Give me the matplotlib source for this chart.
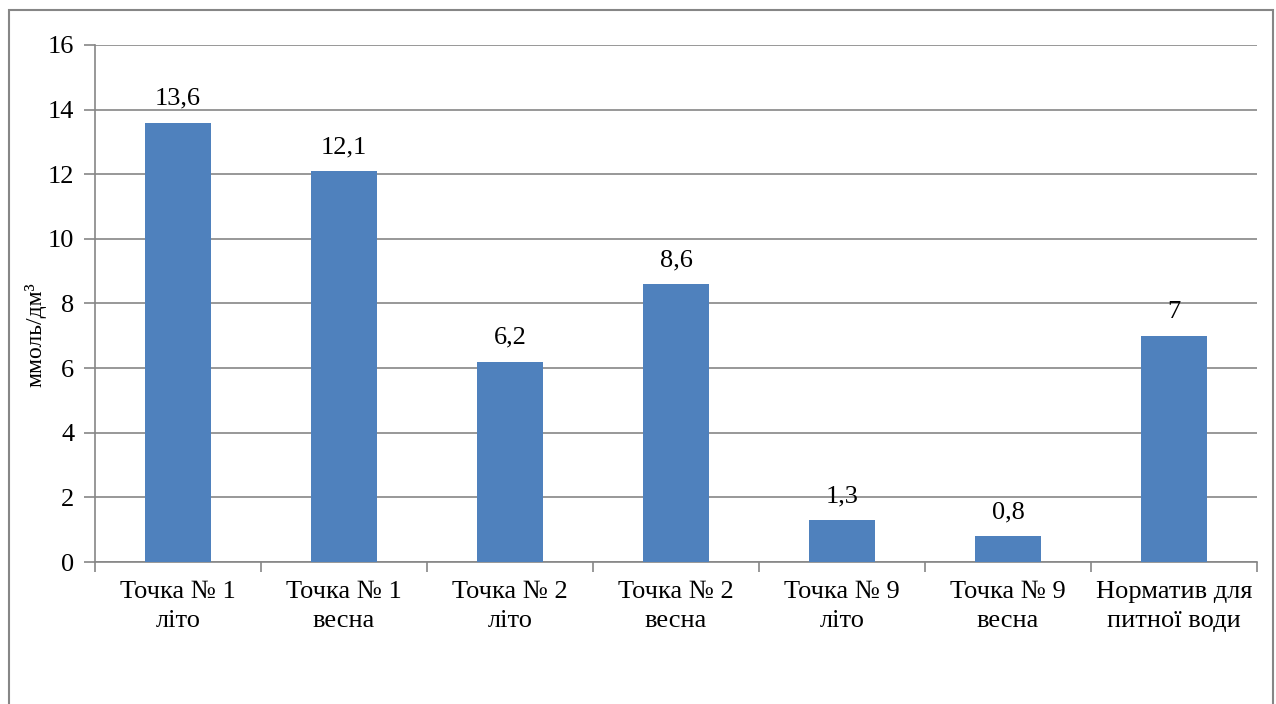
import numpy as np
import matplotlib.pyplot as plt
from matplotlib.patches import Rectangle

# Дані
categories = ['Точка № 1\nліто', 'Точка № 1\nвесна', 'Точка № 2\nліто', 'Точка № 2\nвесна',
              'Точка № 9\nліто', 'Точка № 9\nвесна', 'Норматив для\nпитної води']
values = [13.6, 12.1, 6.2, 8.6, 1.3, 0.8, 7.0]
labels = ['13,6', '12,1', '6,2', '8,6', '1,3', '0,8', '7']
yticks = [0, 2, 4, 6, 8, 10, 12, 14, 16]

plt.rcParams['font.family'] = ['Liberation Serif', 'DejaVu Serif']
grey = '#868686'
fs = 19

fig = plt.figure(figsize=(12.76, 7.04), dpi=100)
ax = fig.add_axes([0.0745, 0.2017, 0.9106, 0.7344])

x = np.arange(len(categories))
ax.bar(x, values, width=0.4, color='#4F81BD', zorder=3)
for xi, v, t in zip(x, values, labels):
    ax.text(xi, v + 0.4, t, ha='center', va='bottom', fontsize=fs)

ax.set_xlim(-0.5, len(categories) - 0.5)
ax.set_ylim(0, 16)
ax.set_yticks(yticks)
ax.set_yticklabels([str(t) for t in yticks], fontsize=fs)
ax.set_xticks(x)
ax.set_xticklabels(categories, fontsize=fs, linespacing=1.4)
ax.tick_params(axis='x', length=0, pad=14)
ax.tick_params(axis='y', length=8, color=grey, width=1.2, pad=7)
# межі категорій
ax.set_xticks(np.arange(len(categories) + 1) - 0.5, minor=True)
ax.tick_params(axis='x', which='minor', length=7, color=grey, width=1.2)

ax.grid(axis='y', color=grey, linewidth=1.2, zorder=0)
for s in ['top', 'right']:
    ax.spines[s].set_visible(False)
for s in ['left', 'bottom']:
    ax.spines[s].set_color(grey)
    ax.spines[s].set_linewidth(1.2)

ax.set_ylabel('ммоль/дм³', fontsize=17)
ax.yaxis.set_label_coords(-0.042, 0.44)

# рамка діаграми
fig.patches.append(Rectangle((9 / 1276, -0.1), 1264 / 1276, 1.1 - 10 / 704,
                             transform=fig.transFigure, fill=False,
                             edgecolor=grey, linewidth=1.5))

fig.savefig('out.png', dpi=100)
